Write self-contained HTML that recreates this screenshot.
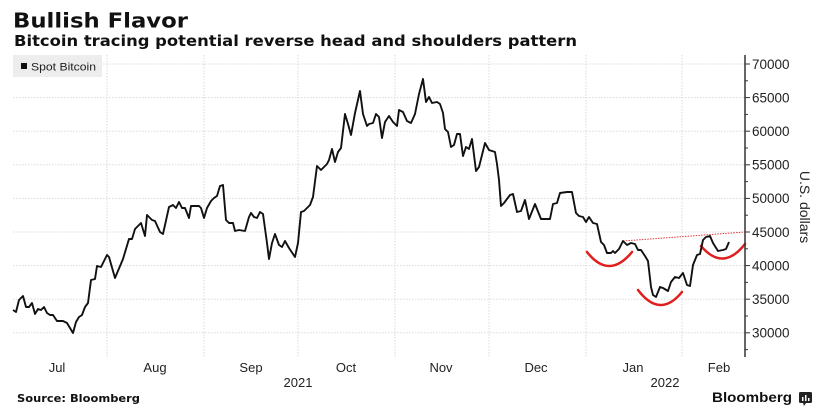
<!DOCTYPE html>
<html><head><meta charset="utf-8"><style>
html,body{margin:0;padding:0;background:#fff;}
svg{display:block;}
</style></head><body>
<svg width="823" height="412" viewBox="0 0 823 412" xmlns="http://www.w3.org/2000/svg">
<rect width="823" height="412" fill="#fff"/>
<!-- titles -->
<text x="13" y="27.5" font-family="DejaVu Sans, Liberation Sans, sans-serif" font-weight="bold" font-size="20" fill="#111" textLength="175" lengthAdjust="spacingAndGlyphs">Bullish Flavor</text>
<text x="14" y="46" font-family="DejaVu Sans, Liberation Sans, sans-serif" font-weight="bold" font-size="15" fill="#111" textLength="563" lengthAdjust="spacingAndGlyphs">Bitcoin tracing potential reverse head and shoulders pattern</text>

<!-- grid -->
<g stroke="#dadada" stroke-width="1" stroke-dasharray="1.5,1.5" fill="none">
<line x1="13" y1="64" x2="745" y2="64"/>
<line x1="13" y1="97.6" x2="745" y2="97.6"/>
<line x1="13" y1="131.2" x2="745" y2="131.2"/>
<line x1="13" y1="164.8" x2="745" y2="164.8"/>
<line x1="13" y1="198.4" x2="745" y2="198.4"/>
<line x1="13" y1="232" x2="745" y2="232"/>
<line x1="13" y1="265.6" x2="745" y2="265.6"/>
<line x1="13" y1="299.2" x2="745" y2="299.2"/>
<line x1="13" y1="332.8" x2="745" y2="332.8"/>
<line x1="107" y1="55" x2="107" y2="357"/>
<line x1="204" y1="55" x2="204" y2="357"/>
<line x1="298" y1="55" x2="298" y2="357"/>
<line x1="395" y1="55" x2="395" y2="357"/>
<line x1="489" y1="55" x2="489" y2="357"/>
<line x1="586" y1="55" x2="586" y2="357"/>
<line x1="682" y1="55" x2="682" y2="357"/>
</g>

<!-- legend -->
<rect x="13" y="55" width="89" height="22" fill="#ededed"/>
<rect x="21" y="63" width="6" height="6" fill="#111"/>
<text x="31" y="70.5" font-family="Liberation Sans, sans-serif" font-size="11" fill="#222" textLength="65" lengthAdjust="spacingAndGlyphs">Spot Bitcoin</text>

<!-- red pattern -->
<line x1="623" y1="241" x2="745" y2="232" stroke="#e23a3a" stroke-width="1" stroke-dasharray="1.5,1.2"/>
<g stroke="#e01e1e" stroke-width="2.5" fill="none" stroke-linecap="round">
<path d="M587,252 Q609,280 632,252"/>
<path d="M638,290 Q660,319 682,292"/>
<path d="M701,246 Q723,272 745,244"/>
</g>

<!-- series -->
<polyline fill="none" stroke="#111" stroke-width="1.9" stroke-linejoin="round" points="13,310 16,312 19,300 23,296 26,307 29,307 32,303 35,314 38,309 41,310 44,307 47,313 50,315 53,315 57,321 63,321 67,323 70,328 73,333 76,322 79,317 82,315 85,307 88,303 91,280 95,279 97,266 101,267 107,255 109,257 115,278 123,259 129,239 132,239 135,229 141,223 145,236 147,215 152,220 155,221 160,232 163,234 169,207 173,205 176,208 179,202 182,208 185,208 189,218 191,206 199,206 201,208 204,218 207,208 211,201 214,198 217,196 220,186 223,185 226,220 229,223 233,223 235,231 239,230 245,231 249,217 251,213 254,217 257,218 260,212 263,214 267,243 269,259 272,243 275,234 279,245 282,247 285,241 289,248 295,257 298,243 301,212 304,211 310,205 313,197 317,166 321,170 327,164 329,160 332,149 335,162 338,152 341,148 345,114 348,124 351,135 355,113 360,91 363,114 367,126 369,124 373,123 376,114 379,117 382,138 385,122 389,116 393,122 397,126 399,110 403,112 407,121 411,123 415,114 419,94 423,79 426,102 429,97 432,103 437,102 440,104 443,113 445,129 448,132 451,147 454,145 457,134 460,134 463,156 466,147 469,149 472,139 476,171 479,167 485,143 489,150 495,152 497,164 499,180 501,206 504,203 510,195 513,194 517,212 521,211 525,200 529,219 535,204 541,219 547,219 550,219 553,204 557,203 560,193 567,192 572,192 576,213 579,216 583,217 586,222 589,217 593,223 597,224 601,242 604,245 607,253 611,253 613,251 615,253 619,249 623,241 627,245 631,243 635,244 638,250 641,250 645,256 648,261 651,287 653,295 656,297 660,287 663,288 668,291 671,282 675,277 679,278 683,273 687,285 690,286 693,265 697,255 700,254 703,240 706,237 710,236 713,243 718,251 723,250 726,249 729,242"/>

<!-- y axis -->
<line x1="745" y1="55" x2="745" y2="357" stroke="#333" stroke-width="1.5"/>
<g stroke="#333" stroke-width="1">
<line x1="745" y1="64" x2="750" y2="64"/>
<line x1="745" y1="97.6" x2="750" y2="97.6"/>
<line x1="745" y1="131.2" x2="750" y2="131.2"/>
<line x1="745" y1="164.8" x2="750" y2="164.8"/>
<line x1="745" y1="198.4" x2="750" y2="198.4"/>
<line x1="745" y1="232" x2="750" y2="232"/>
<line x1="745" y1="265.6" x2="750" y2="265.6"/>
<line x1="745" y1="299.2" x2="750" y2="299.2"/>
<line x1="745" y1="332.8" x2="750" y2="332.8"/>
<line x1="745" y1="80.8" x2="748" y2="80.8"/>
<line x1="745" y1="114.4" x2="748" y2="114.4"/>
<line x1="745" y1="148" x2="748" y2="148"/>
<line x1="745" y1="181.6" x2="748" y2="181.6"/>
<line x1="745" y1="215.2" x2="748" y2="215.2"/>
<line x1="745" y1="248.8" x2="748" y2="248.8"/>
<line x1="745" y1="282.4" x2="748" y2="282.4"/>
<line x1="745" y1="316" x2="748" y2="316"/>
<line x1="745" y1="349.6" x2="748" y2="349.6"/>
</g>
<g font-family="Liberation Sans, sans-serif" font-size="13.5" fill="#222">
<text x="752" y="68.8">70000</text>
<text x="752" y="102.4">65000</text>
<text x="752" y="136">60000</text>
<text x="752" y="169.6">55000</text>
<text x="752" y="203.2">50000</text>
<text x="752" y="236.8">45000</text>
<text x="752" y="270.4">40000</text>
<text x="752" y="304">35000</text>
<text x="752" y="337.6">30000</text>
</g>
<text transform="translate(800,207) rotate(90)" text-anchor="middle" font-family="Liberation Sans, sans-serif" font-size="14" fill="#222">U.S. dollars</text>

<!-- x labels -->
<g font-family="Liberation Sans, sans-serif" font-size="13" fill="#222" text-anchor="middle">
<text x="57" y="372">Jul</text>
<text x="155" y="372">Aug</text>
<text x="251" y="372">Sep</text>
<text x="346" y="372">Oct</text>
<text x="441" y="372">Nov</text>
<text x="536" y="372">Dec</text>
<text x="633" y="372">Jan</text>
<text x="719" y="372">Feb</text>
<text x="298" y="387">2021</text>
<text x="665" y="387">2022</text>
</g>

<!-- footer -->
<text x="17" y="402" font-family="DejaVu Sans, Liberation Sans, sans-serif" font-weight="bold" font-size="11" fill="#111" textLength="123" lengthAdjust="spacingAndGlyphs">Source: Bloomberg</text>
<text x="712" y="402" font-family="Liberation Sans, sans-serif" font-weight="bold" font-size="14" fill="#111" textLength="80" lengthAdjust="spacingAndGlyphs">Bloomberg</text>
<rect x="799" y="392" width="13" height="11" rx="1.5" fill="#222"/>
<rect x="802" y="397" width="1.5" height="4" fill="#fff"/>
<rect x="805" y="395" width="1.5" height="6" fill="#fff"/>
<rect x="808" y="398" width="1.5" height="3" fill="#fff"/>
<polygon points="803,403 806,403 804,406" fill="#222"/>
</svg>
</body></html>
